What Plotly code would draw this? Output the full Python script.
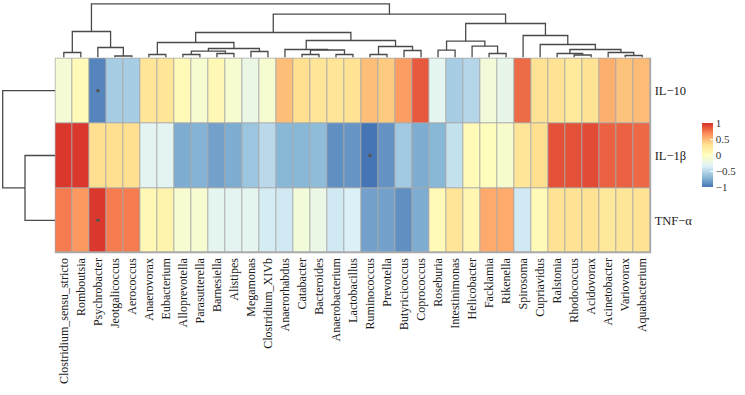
import plotly.graph_objects as go

W, H = 745, 395

columns = ["Clostridium_sensu_stricto", "Romboutsia", "Psychrobacter", "Jeotgalicoccus", "Aerococcus",
           "Anaerovorax", "Eubacterium", "Alloprevotella", "Parasutterella", "Barnesiella", "Alistipes",
           "Megamonas", "Clostridium_XIVb", "Anaerorhabdus", "Catabacter", "Bacteroides", "Anaerobacterium",
           "Lactobacillus", "Ruminococcus", "Prevotella", "Butyricicoccus", "Coprococcus", "Roseburia",
           "Intestinimonas", "Helicobacter", "Facklamia", "Rikenella", "Spirosoma", "Cupriavidus",
           "Ralstonia", "Rhodococcus", "Acidovorax", "Acinetobacter", "Variovorax", "Aquabacterium"]
rows = ["IL\u221210", "IL\u22121\u03b2", "TNF\u2212\u03b1"]

il10 = [-0.12, 0.05, -0.93, -0.58, -0.58, 0.28, 0.28, 0.05, -0.10, 0.07, -0.10, -0.22, -0.10, 0.47,
        0.33, 0.28, 0.28, 0.30, 0.47, 0.42, 0.60, 0.85, -0.28, -0.58, -0.52, -0.15, -0.25, 0.79,
        0.30, 0.30, 0.24, 0.30, 0.53, 0.45, 0.48]
il1b = [0.97, 0.97, 0.33, 0.33, 0.33, -0.30, -0.30, -0.75, -0.72, -0.80, -0.75, -0.62, -0.50, -0.70,
        -0.70, -0.68, -0.88, -0.85, -1.00, -0.87, -0.60, -0.75, -0.70, -0.45, 0.05, 0.02, -0.08, 0.28,
        0.33, 0.88, 0.88, 0.90, 0.82, 0.82, 0.80]
tnfa = [0.73, 0.62, 0.97, 0.73, 0.73, 0.07, 0.12, -0.10, -0.10, -0.28, -0.30, -0.28, -0.38, -0.40,
        -0.15, -0.22, -0.40, -0.35, -0.80, -0.80, -0.88, -0.75, 0.05, 0.28, 0.10, 0.55, 0.55, -0.40,
        0.05, 0.30, 0.30, 0.30, 0.25, 0.27, 0.30]

# significance marks: (row index, column index)
sig_rows = [0, 1, 2]
sig_cols = [2, 18, 2]

# dendrogram structures: (left, right, merge height); ints are leaf indices
col_tree = (
    ((0, 1, 5), (2, (3, 4, 1.5), 10), 26),
    (
        (
            ((5, 6, 3), (((7, 8, 3), (9, 10, 4), 6.3), (11, 12, 6), 9), 15),
            ((13, ((14, 15, 3), (16, 17, 3), 7.5), 8), ((18, 19, 3), (20, 21, 7), 11), 17),
            25),
        (
            ((22, 23, 7.3), (24, (25, 26, 4), 11.3), 16.3),
            (27, (28, ((29, (30, 31, 2.5), 4), (32, (33, 34, 2), 5), 8), 13), 22),
            34),
        43.3),
    53.7)
row_tree = (0, (1, 2, 30), 52.3)

palette = ["#4575B4", "#91BFDB", "#E0F3F8", "#FFFFBF", "#FEE090", "#FC8D59", "#D73027"]
colorscale = [[i / (len(palette) - 1), c] for i, c in enumerate(palette)]


def dendro_segments(tree):
    xs, ys = [], []

    def walk(node):
        if isinstance(node, int):
            return float(node), 0.0
        a, b, h = node
        xa, ha = walk(a)
        xb, hb = walk(b)
        xs.extend([xa, xa, xb, xb, None])
        ys.extend([ha, h, h, hb, None])
        return (xa + xb) / 2, h

    walk(tree)
    return xs, ys


def px_x(p):
    return p / W


def px_y(p):
    return 1 - p / H


hm_l, hm_r, hm_t, hm_b = 55.3, 650.7, 58.3, 252.7
serif = "Liberation Serif, Times New Roman, serif"
line_col = "#4a4a4a"

fig = go.Figure()

fig.add_trace(go.Heatmap(
    z=[il10, il1b, tnfa], x=list(range(len(columns))), y=list(range(len(rows))),
    zmin=-1, zmax=1, colorscale=colorscale, xgap=1, ygap=1,
    colorbar=dict(x=px_x(702), xanchor="left", y=px_y(155), yanchor="middle",
                  lenmode="pixels", len=64, thickness=11, outlinewidth=0, ypad=0, xpad=0,
                  tickvals=[-1, -0.5, 0, 0.5, 1], ticktext=["\u22121", "\u22120.5", "0", "0.5", "1"],
                  ticks="inside", ticklen=3, tickcolor="white",
                  tickfont=dict(family=serif, size=11, color="#333333")),
    xaxis="x", yaxis="y", hoverinfo="skip"))

fig.add_trace(go.Scatter(x=sig_cols, y=sig_rows, mode="markers",
                         marker=dict(size=3.5, color="#555555"), xaxis="x", yaxis="y", hoverinfo="skip"))

cx, cy = dendro_segments(col_tree)
fig.add_trace(go.Scatter(x=cx, y=cy, mode="lines", line=dict(color=line_col, width=1.3),
                         xaxis="x2", yaxis="y2", hoverinfo="skip"))
ry, rx = dendro_segments(row_tree)
fig.add_trace(go.Scatter(x=rx, y=ry, mode="lines", line=dict(color=line_col, width=1.3),
                         xaxis="x3", yaxis="y3", hoverinfo="skip"))

fig.add_shape(type="rect", xref="paper", yref="paper", layer="below",
              x0=px_x(hm_l - 0.5), x1=px_x(hm_r + 0.5), y0=px_y(hm_b + 0.5), y1=px_y(hm_t - 0.5),
              fillcolor="#A8A8A8", line=dict(width=0))

noax = dict(showgrid=False, zeroline=False, showticklabels=False, ticks="", showline=False)
fig.update_layout(
    width=W, height=H, margin=dict(l=0, r=0, t=0, b=0, autoexpand=False),
    paper_bgcolor="white", plot_bgcolor="rgba(0,0,0,0)", showlegend=False,
    xaxis=dict(domain=[px_x(hm_l), px_x(hm_r)], range=[-0.5, len(columns) - 0.5],
               tickvals=list(range(len(columns))), ticktext=columns, tickangle=-90,
               tickfont=dict(family=serif, size=12, color="#1a1a1a"), ticks="",
               showgrid=False, zeroline=False, showline=False, ticklabelstandoff=2, automargin=False),
    yaxis=dict(domain=[px_y(hm_b), px_y(hm_t)], range=[len(rows) - 0.5, -0.5],
               tickvals=list(range(len(rows))), ticktext=rows, side="right",
               tickfont=dict(family=serif, size=12.5, color="#1a1a1a"), ticks="",
               showgrid=False, zeroline=False, showline=False, ticklabelstandoff=3, automargin=False),
    xaxis2=dict(domain=[px_x(hm_l), px_x(hm_r)], range=[-0.5, len(columns) - 0.5], anchor="y2", **noax),
    yaxis2=dict(domain=[px_y(57.5), 1], range=[0, 57.5], anchor="x2", **noax),
    xaxis3=dict(domain=[0, px_x(55)], range=[55, 0], anchor="y3", **noax),
    yaxis3=dict(domain=[px_y(hm_b), px_y(hm_t)], range=[len(rows) - 0.5, -0.5], anchor="x3", **noax),
)

fig.write_html("out.html", config={"displayModeBar": False},
               post_script="document.body.style.margin='0';")
